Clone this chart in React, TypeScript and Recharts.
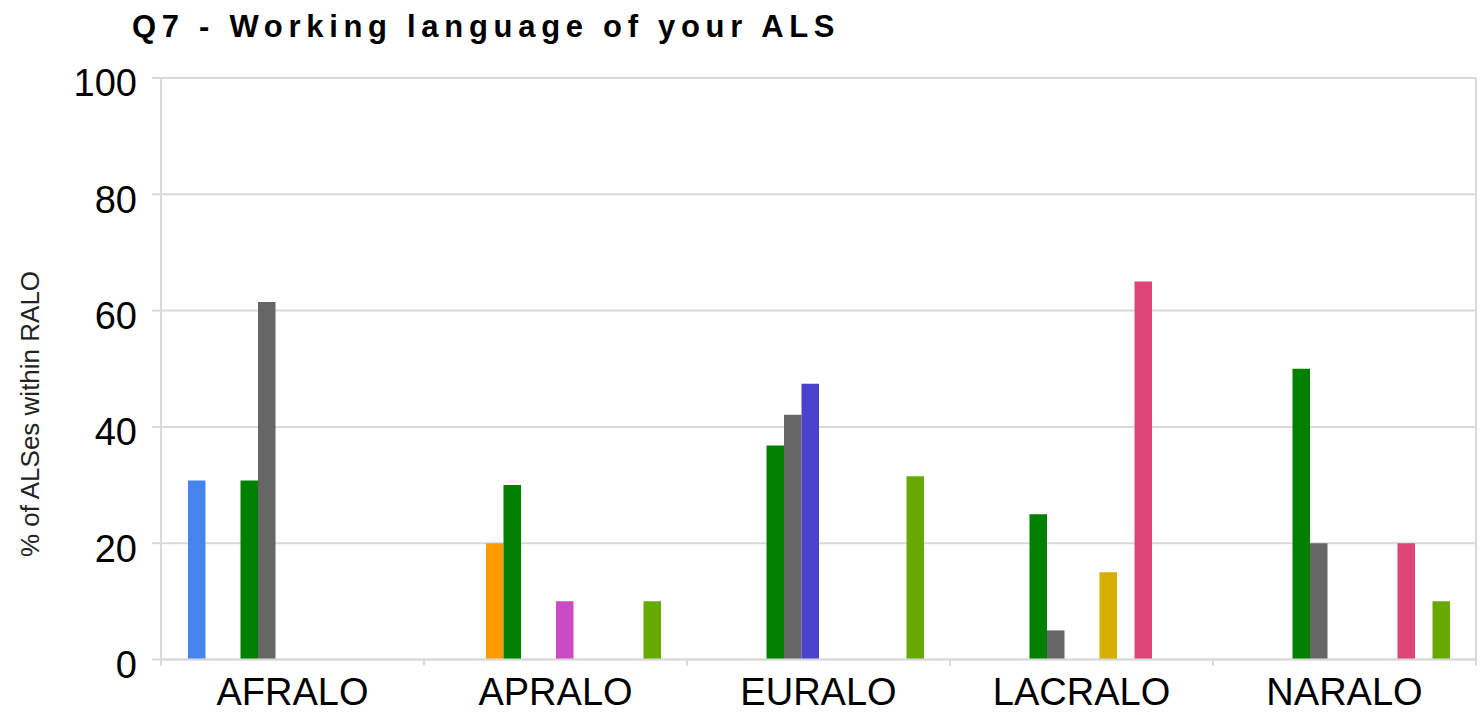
import React from 'react';
import { BarChart, Bar, XAxis, YAxis, CartesianGrid } from 'recharts';

const ralos = ['AFRALO', 'APRALO', 'EURALO', 'LACRALO', 'NARALO'];
const yTicks = [0, 20, 40, 60, 80, 100];

// % of ALSes within each RALO, one list per working language
const arabic = [30.8, 0, 0, 0, 0];
const armenian = [0, 0, 0, 0, 0];
const chinese = [0, 20, 0, 0, 0];
const english = [30.8, 30, 36.8, 25, 50];
const french = [61.5, 0, 42.1, 5, 20];
const german = [0, 0, 47.4, 0, 0];
const hindi = [0, 10, 0, 0, 0];
const portuguese = [0, 0, 0, 15, 0];
const russian = [0, 0, 0, 0, 0];
const spanish = [0, 0, 0, 65, 20];
const swahili = [0, 0, 0, 0, 0];
const other = [0, 10, 31.5, 0, 10];

const series = [
  { key: 'arabic', name: 'Arabic', color: '#4684EE', values: arabic },
  { key: 'armenian', name: 'Armenian', color: '#DC3912', values: armenian },
  { key: 'chinese', name: 'Chinese', color: '#FF9900', values: chinese },
  { key: 'english', name: 'English', color: '#008000', values: english },
  { key: 'french', name: 'French', color: '#666666', values: french },
  { key: 'german', name: 'German', color: '#4942CC', values: german },
  { key: 'hindi', name: 'Hindi', color: '#CB4AC5', values: hindi },
  { key: 'portuguese', name: 'Portuguese', color: '#D6AE00', values: portuguese },
  { key: 'russian', name: 'Russian', color: '#336699', values: russian },
  { key: 'spanish', name: 'Spanish', color: '#DD4477', values: spanish },
  { key: 'swahili', name: 'Swahili', color: '#AAAA11', values: swahili },
  { key: 'other', name: 'Other', color: '#66AA00', values: other },
];

const data = ralos.map((ralo, i) => {
  const row: Record<string, string | number> = { ralo };
  series.forEach((s) => {
    row[s.key] = s.values[i];
  });
  return row;
});

const FONT = '"Liberation Sans", Arial, sans-serif';
const GRID = '#d9d9d9';

// category ticks sit on the band edges, labels in the middle
const RaloTick = (props: any) => {
  const { x, y, payload, index } = props;
  const half = payload.offset || 0;
  const top = y - 19;
  return (
    <g>
      <line x1={x - half} x2={x - half} y1={top} y2={top + 6} stroke={GRID} strokeWidth={2} />
      {index === ralos.length - 1 && (
        <line x1={x + half} x2={x + half} y1={top} y2={top + 6} stroke={GRID} strokeWidth={2} />
      )}
      <text x={x} y={y} dy="0.71em" textAnchor="middle" fontSize={38} fill="#000" fontFamily={FONT}>
        {payload.value}
      </text>
    </g>
  );
};

const App: React.FC = () => {
  return (
    <div style={{ position: 'absolute', left: 0, top: 0, width: 1484, height: 715, background: '#fff', fontFamily: FONT }}>
      <div
        style={{
          position: 'absolute',
          left: 132,
          top: 11,
          fontSize: 31,
          lineHeight: '31px',
          fontWeight: 'bold',
          letterSpacing: 5.7,
          color: '#000',
          whiteSpace: 'nowrap',
        }}
      >
        Q7 - Working language of your ALS
      </div>
      <BarChart
        width={1484}
        height={715}
        data={data}
        margin={{ top: 78, right: 0, bottom: 5.5, left: 0 }}
        barSize={17.5}
        barGap={0}
      >
        <CartesianGrid vertical={false} stroke={GRID} strokeWidth={2} />
        <XAxis
          dataKey="ralo"
          height={50}
          interval={0}
          tickLine={false}
          tickSize={6}
          tickMargin={13}
          axisLine={{ stroke: GRID, strokeWidth: 2 }}
          tick={<RaloTick />}
        />
        <YAxis
          width={161}
          domain={[0, 100]}
          ticks={yTicks}
          interval={0}
          tickSize={9}
          tickMargin={15}
          axisLine={{ stroke: GRID, strokeWidth: 2 }}
          tickLine={{ stroke: GRID, strokeWidth: 2 }}
          tick={{ fill: '#000', fontSize: 38, dy: 5, fontFamily: FONT }}
          label={() => (
            <text
              x={30}
              y={414}
              transform="rotate(-90 30 414)"
              textAnchor="middle"
              dominantBaseline="central"
              fontSize={26}
              fill="#222"
              fontFamily={FONT}
            >
              % of ALSes within RALO
            </text>
          )}
        />
        <YAxis
          yAxisId="frame"
          orientation="right"
          width={8}
          domain={[0, 100]}
          tick={false}
          tickLine={false}
          axisLine={{ stroke: GRID, strokeWidth: 2 }}
        />
        {series.map((s) => (
          <Bar key={s.key} dataKey={s.key} name={s.name} fill={s.color} isAnimationActive={false} />
        ))}
      </BarChart>
    </div>
  );
};

export default App;
